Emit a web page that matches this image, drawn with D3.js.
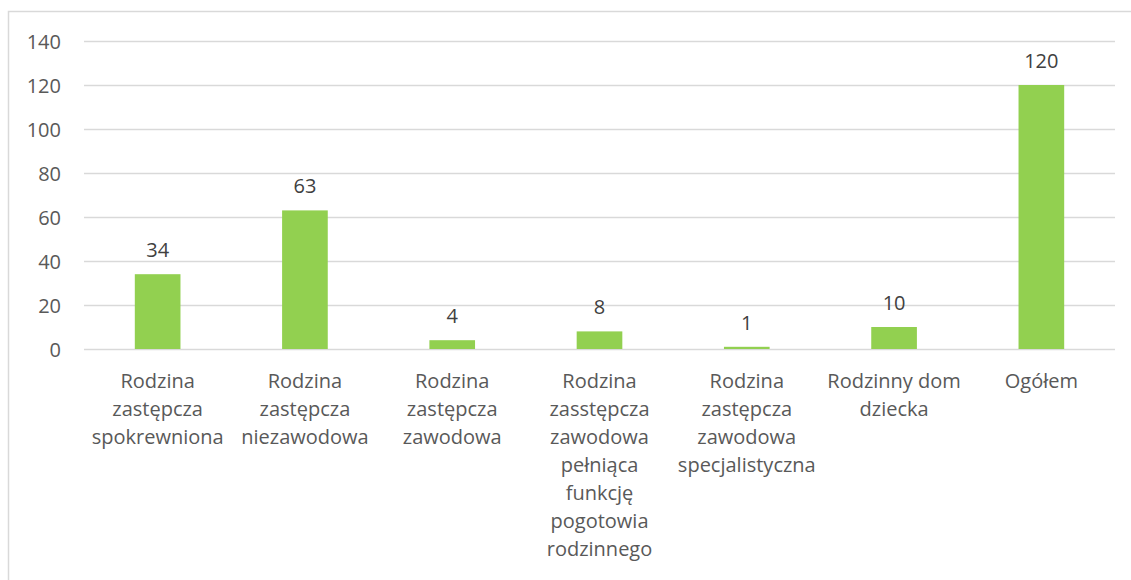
<!DOCTYPE html>
<html>
<head>
<meta charset="utf-8">
<script src="https://cdn.jsdelivr.net/npm/d3@7"></script>
<style>
    body { margin: 0; background: #fff; }
    svg { display: block; }
    text { font-family: "Open Sans", sans-serif; }
</style>
</head>
<body>
<script>
// Chart data: each category label is split into its printed lines
var categories = [
    ["Rodzina", "zastępcza", "spokrewniona"],
    ["Rodzina", "zastępcza", "niezawodowa"],
    ["Rodzina", "zastępcza", "zawodowa"],
    ["Rodzina", "zasstępcza", "zawodowa", "pełniąca", "funkcję",
        "pogotowia", "rodzinnego"],
    ["Rodzina", "zastępcza", "zawodowa", "specjalistyczna"],
    ["Rodzinny dom", "dziecka"],
    ["Ogółem"]
];
var values = [34, 63, 4, 8, 1, 10, 120];
var yTicks = [0, 20, 40, 60, 80, 100, 120, 140];

var W = 1131, H = 580;
var margin = {top: 41, right: 16, bottom: 231, left: 84},
    width = W - margin.left - margin.right,
    height = H - margin.top - margin.bottom;

var svg = d3.select("body").append("svg")
    .attr("width", W)
    .attr("height", H);

// outer chart frame (runs off the right and bottom edge)
svg.append("rect")
    .attr("x", 8.5)
    .attr("y", 11.5)
    .attr("width", W + 20)
    .attr("height", H + 20)
    .attr("fill", "none")
    .attr("stroke", "#d9d9d9")
    .attr("stroke-width", 1.5);

var g = svg.append("g")
    .attr("transform", "translate(" + margin.left + "," + margin.top + ")");

var idx = d3.range(values.length);
var xScale = d3.scaleBand().domain(idx).range([0, width])
    .paddingInner(0.69).paddingOuter(0.345);
var yScale = d3.scaleLinear().domain([0, 140]).range([height, 0]);

// gridlines
g.selectAll("line.grid")
    .data(yTicks)
    .enter()
    .append("line")
    .attr("class", "grid")
    .attr("x1", 0)
    .attr("x2", width)
    .attr("y1", function (d) { return Math.round(yScale(d)) + 0.5; })
    .attr("y2", function (d) { return Math.round(yScale(d)) + 0.5; })
    .attr("stroke", "#d9d9d9")
    .attr("stroke-width", 1.5);

// y axis labels
var yAxis = d3.axisLeft(yScale).tickValues(yTicks).tickSize(0)
    .tickPadding(23);
g.append("g")
    .call(yAxis)
    .call(function (a) { a.select(".domain").remove(); })
    .selectAll("text")
    .attr("font-family", "Open Sans, sans-serif")
    .attr("font-size", "20px")
    .attr("fill", "#595959")
    .attr("dy", "0.36em");

// bars
g.selectAll("rect.bar")
    .data(values)
    .enter()
    .append("rect")
    .attr("class", "bar")
    .attr("x", function (d, i) { return xScale(i); })
    .attr("y", function (d) { return yScale(d); })
    .attr("width", xScale.bandwidth())
    .attr("height", function (d) { return height - yScale(d); })
    .attr("fill", "#92d050");

// value labels
g.selectAll("text.val")
    .data(values)
    .enter()
    .append("text")
    .attr("class", "val")
    .attr("x", function (d, i) { return xScale(i) + xScale.bandwidth() / 2; })
    .attr("y", function (d) { return yScale(d) - 17; })
    .attr("text-anchor", "middle")
    .attr("font-size", "20px")
    .attr("fill", "#404040")
    .text(function (d) { return d; });

// category labels, one tspan per line
var cat = g.selectAll("text.cat")
    .data(categories)
    .enter()
    .append("text")
    .attr("class", "cat")
    .attr("text-anchor", "middle")
    .attr("font-size", "20px")
    .attr("fill", "#595959")
    .attr("transform", function (d, i) {
        return "translate(" + (xScale(i) + xScale.bandwidth() / 2) + "," +
            (height + 39) + ")";
    });

cat.selectAll("tspan")
    .data(function (d) { return d; })
    .enter()
    .append("tspan")
    .attr("x", 0)
    .attr("y", function (d, i) { return i * 28; })
    .text(function (d) { return d; });
</script>
</body>
</html>
